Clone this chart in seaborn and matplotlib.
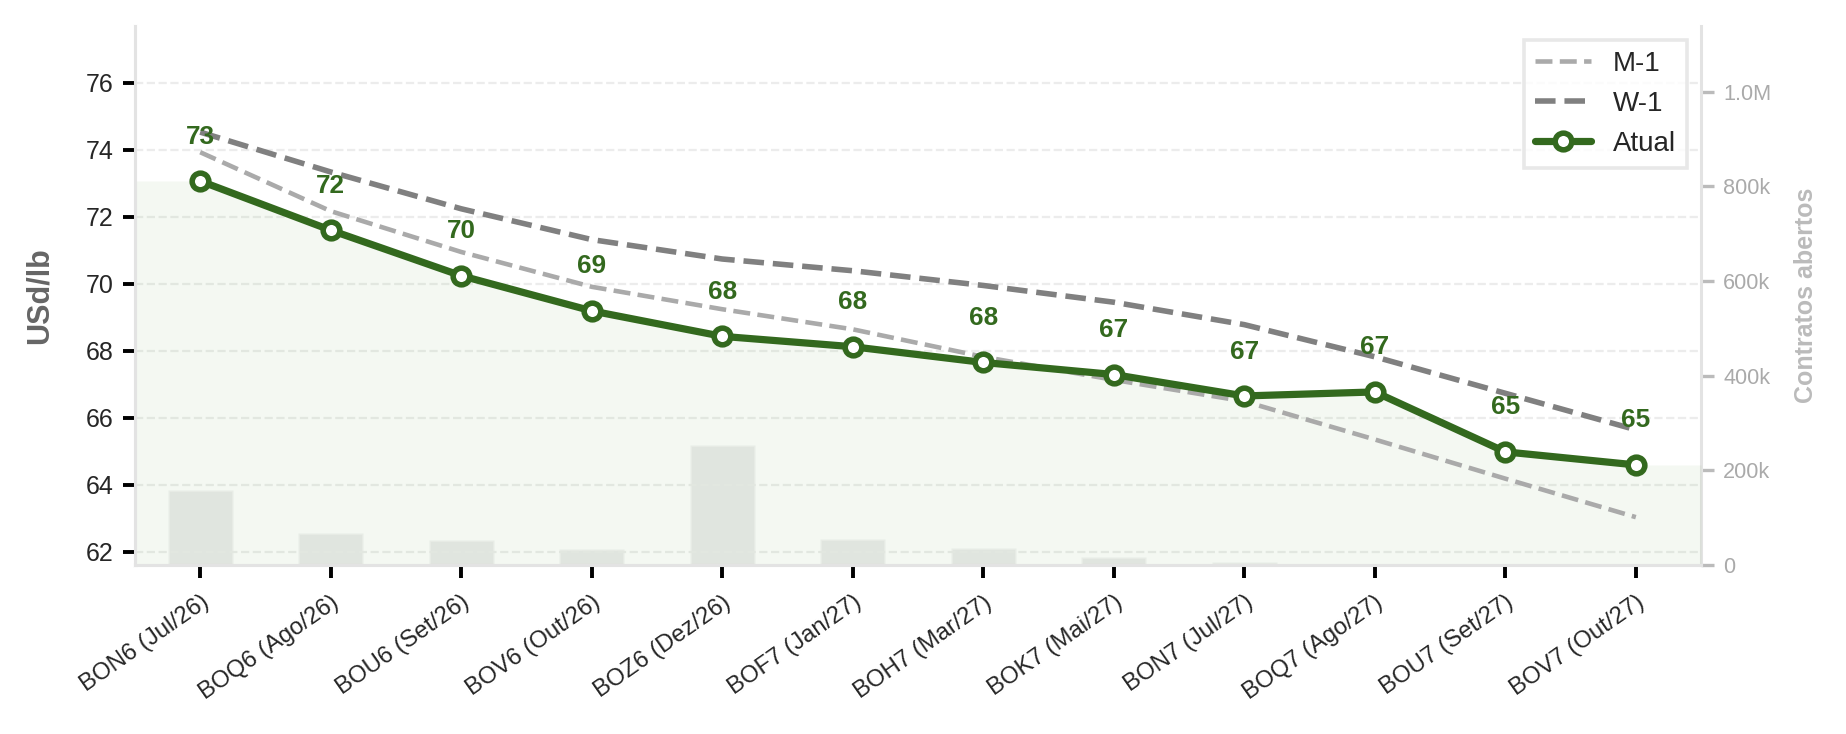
import numpy as np
import matplotlib
matplotlib.use("Agg")
import matplotlib.pyplot as plt
import seaborn as sns
from matplotlib.ticker import FuncFormatter

# ==============================================================================
# DADOS
# ==============================================================================
contratos = ['BON6 (Jul/26)', 'BOQ6 (Ago/26)', 'BOU6 (Set/26)', 'BOV6 (Out/26)',
             'BOZ6 (Dez/26)', 'BOF7 (Jan/27)', 'BOH7 (Mar/27)', 'BOK7 (Mai/27)',
             'BON7 (Jul/27)', 'BOQ7 (Ago/27)', 'BOU7 (Set/27)', 'BOV7 (Out/27)']
atual = [73.07, 71.60, 70.24, 69.19, 68.43, 68.12, 67.65, 67.29, 66.65, 66.77, 64.98, 64.59]
semana_ant = [74.53, 73.34, 72.24, 71.32, 70.74, 70.39, 69.95, 69.45, 68.78, 67.82, 66.73, 65.64]
mes_ant = [73.93, 72.17, 70.95, 69.91, 69.24, 68.64, 67.82, 67.13, 66.49, 65.35, 64.18, 63.03]
contratos_abertos = [158000, 67000, 52000, 33000, 253000, 54000, 36000, 16000, 7000, 0, 0, 0]

VERDE = '#33691e'

# ==============================================================================
# ESTILO
# ==============================================================================
sns.set_style('white')
plt.rcParams['font.family'] = ['Liberation Sans', 'DejaVu Sans']

fig, ax = plt.subplots(figsize=(1846 / 200, 734 / 200), dpi=200)
fig.subplots_adjust(left=0.0731, right=0.9215, bottom=0.2302, top=0.9646)
ax2 = ax.twinx()

pos = np.arange(len(contratos))

# barras de contratos abertos (eixo secundario)
sns.barplot(x=pos, y=contratos_abertos, ax=ax2, color='#cfcfcf', alpha=0.42,
            width=0.5, saturation=1)
ax2.set_ylim(0, max(contratos_abertos) * 4.5)

# area sob a curva atual
ax.set_xlim(-0.5, len(contratos) - 0.5)
ax.set_ylim(61.6, 77.7)
x_area = np.r_[ax.get_xlim()[0], pos, ax.get_xlim()[1]]
y_area = np.r_[atual[0], atual, atual[-1]]
ax.fill_between(x_area, y_area, ax.get_ylim()[0], color='#6aa84f', alpha=0.07, lw=0)

# curvas
sns.lineplot(x=pos, y=mes_ant, ax=ax, color='#aaaaaa', lw=1.65, linestyle='--', label='M-1')
sns.lineplot(x=pos, y=semana_ant, ax=ax, color='#808080', lw=2.0, linestyle='--', label='W-1')
sns.lineplot(x=pos, y=atual, ax=ax, color=VERDE, lw=2.6, marker='o', markersize=6,
             markerfacecolor='white', markeredgecolor=VERDE, markeredgewidth=2,
             label='Atual')

for xi, yi in zip(pos, atual):
    ax.annotate(f'{yi:.0f}', (xi, yi), xytext=(0, 16), textcoords='offset points',
                ha='center', va='center', fontsize=9.4, fontweight='bold', color=VERDE)

# eixo principal acima do secundario
ax.set_zorder(ax2.get_zorder() + 1)
ax.patch.set_visible(False)

ax.set_yticks(np.arange(62, 77, 2))
ax.yaxis.grid(True, linestyle='--', color='#ececec', lw=0.8)
ax.xaxis.grid(False)
ax.set_xticks(pos)
ax.set_xticklabels(contratos, rotation=35, ha='right', rotation_mode='anchor', fontsize=8.6)
ax.tick_params(axis='y', labelsize=9, length=4.2, width=1.4, color='black', left=True)
ax.tick_params(axis='x', length=4.5, width=1.4, color='black', bottom=True, pad=5)
ax.set_ylabel('USd/lb', fontsize=11, fontweight='bold', color='#666666', labelpad=11)

ax2.set_yticks([0, 200000, 400000, 600000, 800000, 1000000])
ax2.yaxis.set_major_formatter(FuncFormatter(
    lambda v, p: '0' if v == 0 else (f'{v / 1e6:.1f}M' if v >= 1e6 else f'{v / 1e3:.0f}k')))
ax2.tick_params(axis='y', labelsize=7.8, length=4.5, width=1.2, color='#bbbbbb',
                labelcolor='#aaaaaa', right=True)
ax2.set_ylabel('Contratos abertos', fontsize=9, fontweight='bold', color='#bbbbbb', labelpad=8)
ax2.set_xlabel('')

for a in (ax, ax2):
    a.spines['top'].set_visible(False)
    for lado in ['left', 'bottom', 'right']:
        a.spines[lado].set_color('#e3e3e3')
        a.spines[lado].set_linewidth(1.1)
ax.spines['right'].set_visible(False)

leg = ax.legend(loc='upper right', fontsize=10, frameon=True, fancybox=False)
leg.get_frame().set_edgecolor('#e3e3e3')
leg.get_frame().set_linewidth(1.3)

fig.savefig('out.png', dpi=200)
